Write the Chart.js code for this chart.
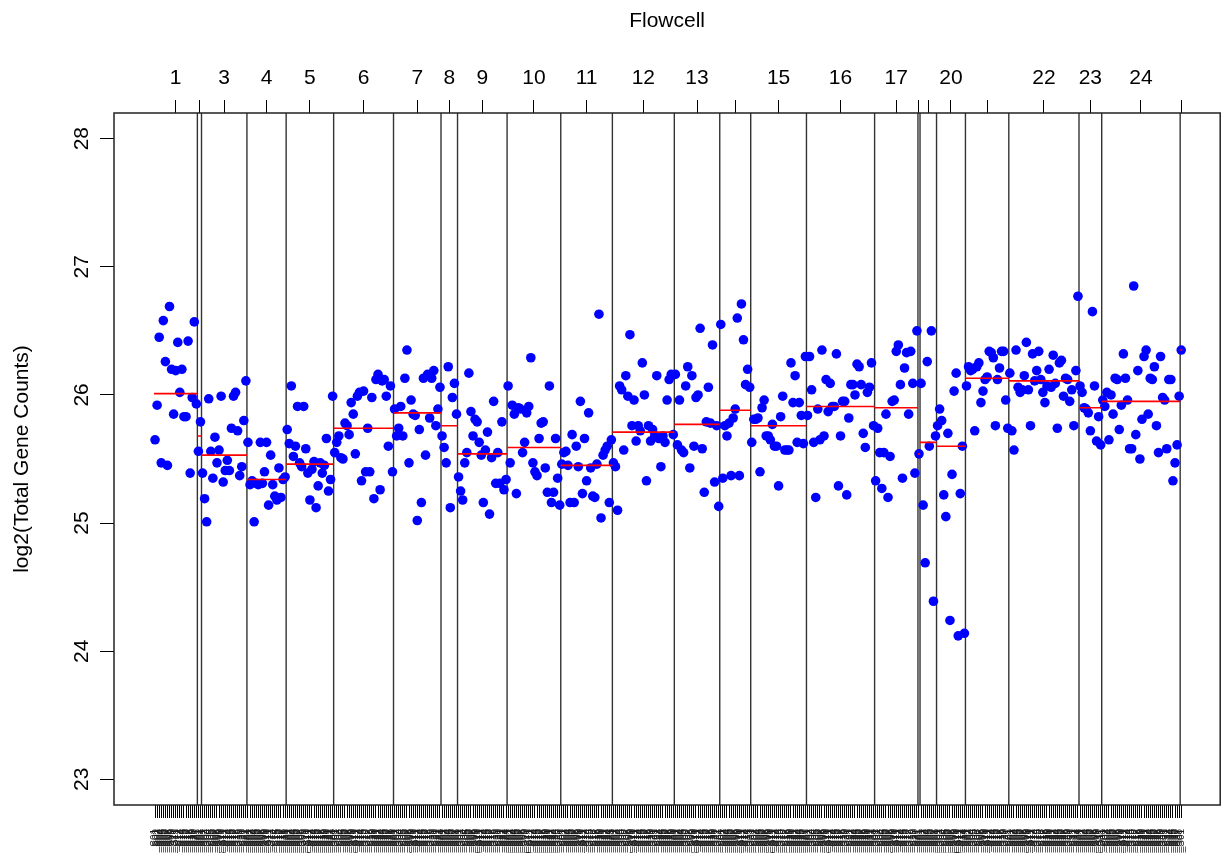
<!DOCTYPE html>
<html>
<head>
<meta charset="utf-8">
<script src="https://cdn.jsdelivr.net/npm/chart.js@4.4.1/dist/chart.umd.min.js"></script>
<style>
html,body{margin:0;padding:0;background:#ffffff;}
#wrap{width:1225px;height:853px;}
</style>
</head>
<body>
<div id="wrap"><canvas id="c" width="1225" height="853"></canvas></div>
<script>
// ---------------- data ----------------
const flowcellNames = ['1','2','3','4','5','6','7','8','9','10','11','12','13','14','15','16','17','18','19','20','21','22','23','24','25'];
const topTickLabels = ['1','','3','4','5','6','7','8','9','10','11','12','13','','15','16','17','','','20','','22','23','24',''];
const yTicks = [23, 24, 25, 26, 27, 28];

const fc1  = [25.65,25.92,26.45,25.47,26.58,26.26,25.45,26.69,26.20,25.85,26.19,26.41,26.02,26.20,25.83,25.83,26.42,25.39,25.98,26.57,25.93];
const fc2  = [25.56,25.79];
const fc3  = [25.39,25.19,25.01,25.97,25.56,25.35,25.67,25.47,25.57,25.99,25.32,25.41,25.49,25.41,25.74,25.99,26.02,25.72,25.37,25.44,25.80,26.11];
const fc4  = [25.63,25.30,25.33,25.01,25.31,25.30,25.63,25.31,25.40,25.63,25.14,25.53,25.30,25.21,25.18,25.43,25.20,25.34,25.36];
const fc5  = [25.73,25.62,26.07,25.52,25.60,25.91,25.47,25.44,25.91,25.58,25.39,25.18,25.42,25.48,25.12,25.29,25.47,25.39,25.45,25.66,25.25,25.34,25.99];
const fc6  = [25.55,25.63,25.68,25.51,25.50,25.78,25.76,25.69,25.94,25.85,25.54,25.99,26.02,25.33,26.03,25.40,25.74,25.40,25.98,25.19,26.12,26.16,25.26,26.11,26.12,25.99,25.60,26.07,25.40];
const fc7  = [25.89,25.68,25.74,25.91,25.68,26.13,26.35,25.47,25.96,25.85,25.84,25.02,25.73,25.16,26.13,25.53,26.16,25.82,26.13,26.19,25.76,25.89,26.06];
const fc8  = [25.68,25.59,25.47,26.22,25.12,25.98,26.09,25.85];
const fc9  = [25.36,25.25,25.18,25.47,25.55,26.17,25.87,25.68,25.81,25.79,25.63,25.53,25.16,25.57,25.71,25.07,25.51,25.95,25.31,25.55,25.31,25.79,25.26,25.34];
const fc10 = [26.07,25.47,25.92,25.85,25.23,25.90,25.89,25.55,25.63,25.86,25.91,26.29,25.47,25.40,25.37,25.66,25.78,25.79,25.43,25.24,26.07,25.16,25.24,25.66,25.35,25.14];
const fc11 = [25.46,25.55,25.56,25.45,25.16,25.69,25.16,25.60,25.44,25.95,25.23,25.66,25.33,25.86,25.43,25.21,25.20,25.46,26.63,25.04,25.53,25.57,25.60,25.16,25.65];
const fc12 = [25.47,25.44,25.10,26.07,26.04,25.57,26.15,25.99,26.47,25.76,25.96,25.64,25.76,25.72,26.25,26.00,25.33,25.76,25.64,25.73,25.68,26.15,25.66,25.44,25.68,25.63,25.96,26.12,26.16,25.69];
const fc13 = [26.16,25.61,25.96,25.57,25.55,26.07,26.22,25.43,26.15,25.60,25.98,26.00,26.52,25.58,25.24,25.79,26.06,25.78,26.39,25.32,25.76,25.13];
const fc14 = [26.55,25.35,25.76,25.68,25.78,25.37,25.82,25.89,26.60,25.37,26.71,26.43,26.08,26.20,26.06];
const fc15 = [25.63,25.81,25.81,25.82,25.40,25.90,25.96,25.68,25.68,25.65,25.77,25.60,25.60,25.29,25.83,25.99,25.57,25.57,25.57,26.25,25.94,26.15,25.63,25.94,25.84,25.62,26.30];
const fc16 = [25.84,26.30,26.04,25.63,25.20,25.89,25.65,26.35,25.68,26.12,25.87,26.09,25.91,25.91,26.32,25.29,25.68,25.95,25.95,25.22,25.82,26.08,26.08,26.00,26.24,26.22,26.08,25.70,25.59,26.02,26.06,26.25,25.76];
const fc17 = [25.33,25.74,25.55,25.27,25.55,25.85,25.20,25.52,25.95,25.96,26.34,26.39,26.08,25.35,26.21,26.33,25.85,26.34,26.09,25.39,26.50];
const fc18 = [25.54];
const fc19 = [26.09,25.14,24.69,26.26,25.60,26.50,24.39,25.68];
const fc20 = [25.76,25.89,25.80,25.22,25.05,25.70,24.24,25.38,26.03,26.17,24.12,25.23,25.60,24.14];
const fc21 = [26.07,26.22,26.19,26.20,25.72,26.22,26.25,25.94,26.03,26.12,26.14,26.34,26.33,26.29,25.76,26.12,26.21,26.34,26.34,25.96,25.74];
const fc22 = [26.17,25.72,25.57,26.35,26.06,26.02,26.04,26.15,26.41,26.04,25.76,26.32,26.11,26.19,26.34,26.12,26.02,25.94,26.07,26.20,26.06,26.31,26.09,25.74,26.25,26.27,25.99,26.13,26.12,25.95,26.04,25.76,26.19,26.77];
const fc23 = [26.07,26.02,25.90,25.89,25.86,25.72,26.65,26.07,25.64,25.83,25.61];
const fc24 = [25.96,25.91,26.02,25.65,26.00,25.85,26.13,26.12,25.73,25.92,26.32,26.13,25.96,25.58,25.58,26.85,25.69,26.19,25.50,25.81,26.30,26.35,25.85,26.13,26.12,26.22,25.76,25.55,26.30,25.98,25.96,25.58,26.12,26.12,25.33,25.47,25.61,25.99];
const fc25 = [26.35];

// per-flowcell medians (red segments)
const flowcellMedians = [26.01,25.68,25.53,25.34,25.46,25.74,25.86,25.76,25.54,25.59,25.45,25.71,25.77,25.88,25.76,25.91,25.90,25.54,25.63,25.60,26.13,26.11,25.90,25.95,26.35];

const flowcellValues = [fc1,fc2,fc3,fc4,fc5,fc6,fc7,fc8,fc9,fc10,fc11,fc12,fc13,fc14,fc15,fc16,fc17,fc18,fc19,fc20,fc21,fc22,fc23,fc24,fc25];

// ---------------- build library structures ----------------
const points = [];
const sampleNames = [];
const sampleIdx = [];
const groupCenters = [];
const boundaries = [];
const medianSegs = [];
let idx = 1;
flowcellValues.forEach((vals, g) => {
  const start = idx;
  vals.forEach((v, i) => {
    points.push({x: idx, y: v});
    sampleIdx.push(idx);
    sampleNames.push('FC' + flowcellNames[g].padStart(2, '0') + '_S' + String(i + 1).padStart(2, '0'));
    idx++;
  });
  const end = idx - 1;
  groupCenters.push((start + end) / 2);
  medianSegs.push({x: start - 0.5, y: flowcellMedians[g]}, {x: end + 0.5, y: flowcellMedians[g]}, {x: end + 0.5, y: null});
  if (g < flowcellValues.length - 1) boundaries.push(end + 0.5);
});
const N = points.length;
const yMin = 22.8, yMax = 28.2;
const xMin = 1 - 0.04 * (N - 1), xMax = N + 0.038 * (N - 1);
const vLines = [];
boundaries.forEach(b => { vLines.push({x: b, y: yMin}, {x: b, y: yMax}, {x: b, y: null}); });

const FONT = '"Liberation Sans", Arial, Helvetica, sans-serif';
Chart.defaults.font.family = FONT;

const boxPlugin = {
  id: 'boxAndYLabels',
  afterDraw(chart) {
    const ctx = chart.ctx, a = chart.chartArea, s = chart.scales.y;
    ctx.save();
    ctx.strokeStyle = '#222';
    ctx.lineWidth = 1.5;
    ctx.strokeRect(a.left, a.top, a.right - a.left, a.bottom - a.top);
    ctx.fillStyle = '#000';
    ctx.font = '21px ' + FONT;
    ctx.textAlign = 'center';
    ctx.textBaseline = 'middle';
    s.ticks.forEach(t => {
      const py = s.getPixelForValue(t.value);
      ctx.save();
      ctx.translate(82, py);
      ctx.rotate(-Math.PI / 2);
      ctx.fillText(String(t.value), 0, 0);
      ctx.restore();
    });
    ctx.restore();
  }
};

new Chart(document.getElementById('c'), {
  type: 'scatter',
  data: {
    datasets: [
      {label: 'median', data: medianSegs, showLine: true, spanGaps: false, borderColor: '#ff0000', borderWidth: 1.6, pointRadius: 0, order: 0},
      {label: 'samples', data: points, backgroundColor: '#0000ff', borderWidth: 0, pointRadius: 4.8, order: 1},
      {label: 'flowcell breaks', data: vLines, showLine: true, spanGaps: false, borderColor: '#333', borderWidth: 1.4, pointRadius: 0, order: 2}
    ]
  },
  options: {
    responsive: false,
    devicePixelRatio: 1,
    animation: false,
    layout: {padding: {left: 0, right: 1, top: 0, bottom: 0}},
    plugins: {legend: {display: false}, tooltip: {enabled: false}},
    scales: {
      x: {
        type: 'linear', position: 'bottom', min: xMin, max: xMax, bounds: 'data',
        afterBuildTicks: s => { s.ticks = sampleIdx.map(v => ({value: v})); },
        afterFit: s => { s.height = 48; },
        ticks: {autoSkip: false, minRotation: 90, maxRotation: 90, padding: 11,
          font: {size: 10}, color: '#1a1a1a',
          callback: (v, i) => sampleNames[i]},
        grid: {drawOnChartArea: false, drawTicks: true, tickLength: 13, color: '#000', lineWidth: 1},
        border: {display: false}
      },
      xTop: {
        type: 'linear', position: 'top', min: xMin, max: xMax, bounds: 'data',
        afterBuildTicks: s => { s.ticks = groupCenters.map(v => ({value: v})); },
        afterFit: s => { s.height = 113; },
        ticks: {autoSkip: false, minRotation: 0, maxRotation: 0, padding: 9,
          font: {size: 21}, color: '#000',
          callback: (v, i) => topTickLabels[i]},
        grid: {drawOnChartArea: false, drawTicks: true, tickLength: 13, color: '#000', lineWidth: 1},
        border: {display: false},
        title: {display: true, text: 'Flowcell', color: '#000', font: {size: 21}, padding: {top: 9, bottom: 0}}
      },
      y: {
        type: 'linear', position: 'left', min: yMin, max: yMax,
        afterBuildTicks: s => { s.ticks = yTicks.map(v => ({value: v})); },
        afterFit: s => { s.width = 114; },
        ticks: {display: false},
        grid: {drawOnChartArea: false, drawTicks: true, tickLength: 14, color: '#000', lineWidth: 1},
        border: {display: false},
        title: {display: true, text: 'log2(Total Gene Counts)', color: '#000', font: {size: 21}, padding: {top: 10, bottom: 0}}
      }
    }
  },
  plugins: [boxPlugin]
});
</script>
</body>
</html>
